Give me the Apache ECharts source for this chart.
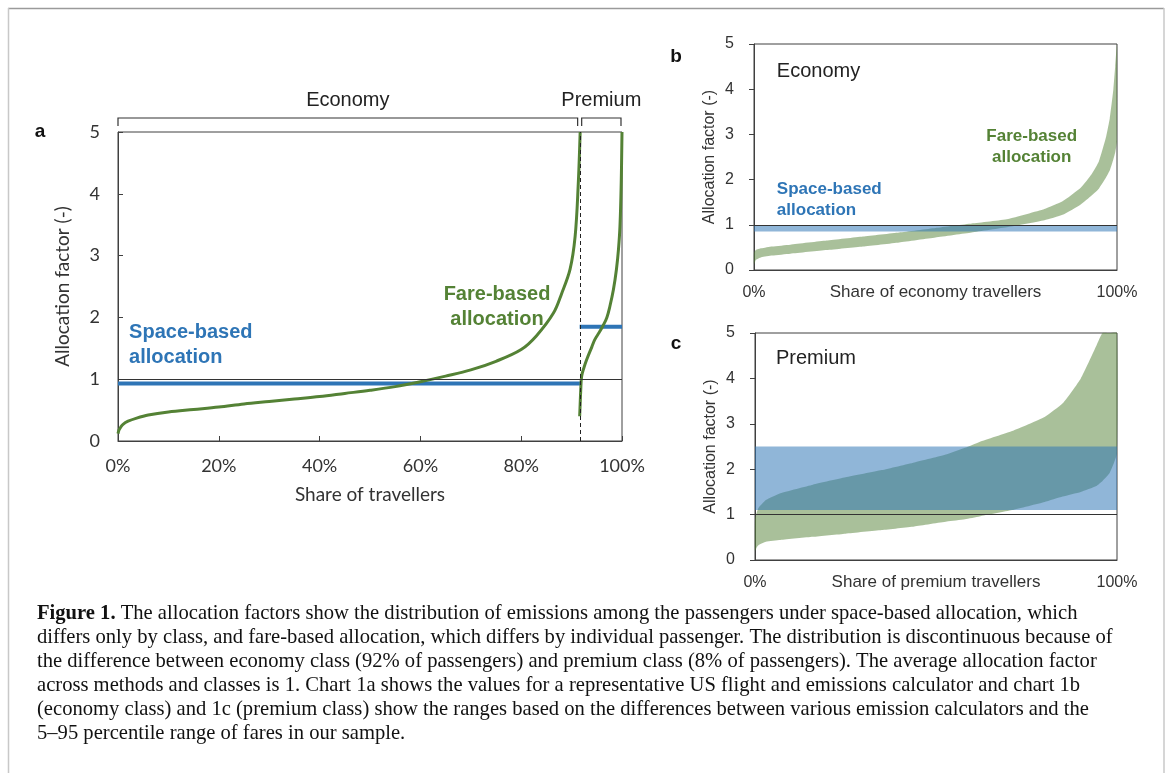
<!DOCTYPE html>
<html>
<head>
<meta charset="utf-8">
<title>Figure 1 - allocation factors</title>
<script src="https://cdn.jsdelivr.net/npm/echarts@6/dist/echarts.min.js"></script>
<style>
  html, body { margin: 0; padding: 0; background: #fff; }
  #main { width: 1171px; height: 773px; }
</style>
</head>
<body>
<div id="main"></div>
<script>
// --- chart a: representative flight ---
var econShare = [0, 0.2, 0.5, 1, 2, 3.7, 6, 10, 15, 20, 25, 30, 35, 40, 45, 50, 55, 60, 65, 70, 75, 80, 83, 86.4, 88, 89.7, 90.7, 91.3, 91.7];
var econFare  = [0.12, 0.18, 0.22, 0.27, 0.32, 0.37, 0.42, 0.47, 0.51, 0.55, 0.6, 0.64, 0.68, 0.72, 0.77, 0.82, 0.88, 0.96, 1.05, 1.15, 1.29, 1.48, 1.7, 2.07, 2.38, 2.78, 3.31, 4.12, 5.0];
var premShare = [91.6, 91.7, 91.8, 92, 92.5, 93, 94, 94.6, 95.5, 96.2, 97, 97.6, 98.3, 98.9, 99.3, 99.6, 99.85, 100];
var premFare  = [0.4, 0.6, 0.8, 1.05, 1.2, 1.32, 1.52, 1.64, 1.76, 1.86, 2.0, 2.18, 2.45, 2.78, 3.1, 3.48, 4.2, 5.0];
var splitShare = 91.8;
var econSpace = 0.93;
var premSpace = 1.85;
var classNames = ['Economy', 'Premium'];
var classSpans = [[0, 91.2], [92, 99.8]];

// --- chart b: economy ranges ---
var bShare = [0, 0.5, 2, 5, 10, 20, 30, 40, 50, 60, 70, 80, 85, 90, 93, 95, 97, 98, 99, 99.5, 100];
var bHigh  = [0.38, 0.44, 0.48, 0.52, 0.56, 0.65, 0.74, 0.83, 0.93, 1.03, 1.13, 1.35, 1.52, 1.82, 2.12, 2.4, 2.95, 3.35, 4.0, 4.5, 5.0];
var bLow   = [0.12, 0.22, 0.28, 0.32, 0.36, 0.44, 0.52, 0.61, 0.72, 0.83, 0.95, 1.1, 1.22, 1.45, 1.65, 1.8, 2.05, 2.2, 2.45, 2.6, 2.85];
var bSpace = [0.85, 0.98];

// --- chart c: premium ranges ---
var cShare = [0, 0.5, 1, 3, 7, 16, 25, 35, 44, 53, 58, 62, 71, 80, 85, 90, 94.3, 96, 98, 100];
var cHigh  = [0.9, 1.05, 1.15, 1.32, 1.47, 1.66, 1.82, 1.98, 2.15, 2.33, 2.47, 2.6, 2.84, 3.15, 3.45, 4.0, 4.72, 5, 5, 5];
var cLow   = [0.2, 0.28, 0.33, 0.4, 0.44, 0.51, 0.58, 0.66, 0.74, 0.85, 0.9, 0.96, 1.1, 1.28, 1.4, 1.5, 1.63, 1.74, 1.92, 2.35];
var cSpace = [1.1, 2.5];

var captionLines = [
  ' The allocation factors show the distribution of emissions among the passengers under space-based allocation, which',
  'differs only by class, and fare-based allocation, which differs by individual passenger. The distribution is discontinuous because of',
  'the difference between economy class (92% of passengers) and premium class (8% of passengers). The average allocation factor',
  'across methods and classes is 1. Chart 1a shows the values for a representative US flight and emissions calculator and chart 1b',
  '(economy class) and 1c (premium class) show the ranges based on the differences between various emission calculators and the',
  '5\u201395 percentile range of fares in our sample.'
];

var GREEN = '#548235', BLUE = '#2e75b6', AXIS = '#404040';
var SANS = '"Liberation Sans", Arial, sans-serif';

function zip(xs, ys) {
  var out = [];
  for (var i = 0; i < xs.length; i++) out.push([xs[i], ys[i]]);
  return out;
}

function xAxisA() {
  return {
    gridIndex: 0, type: 'value', min: 0, max: 100, interval: 20,
    axisLine: {lineStyle: {color: AXIS}},
    axisTick: {inside: true, length: 5, lineStyle: {color: AXIS}},
    axisLabel: {formatter: '{value}%', fontFamily: 'Lato', fontSize: 18, color: '#333', margin: 16},
    splitLine: {show: false},
    name: 'Share of travellers', nameLocation: 'middle', nameGap: 44, nameMoveOverlap: false,
    nameTextStyle: {fontFamily: 'Lato', fontSize: 19, color: '#333'}
  };
}
function xAxisSmall(grid, name) {
  return {
    gridIndex: grid, type: 'value', min: 0, max: 100, interval: 100,
    axisLine: {lineStyle: {color: AXIS}},
    axisTick: {show: false},
    axisLabel: {formatter: '{value}%', fontFamily: SANS, fontSize: 16, color: '#333', margin: 15},
    splitLine: {show: false},
    name: name, nameLocation: 'middle', nameGap: 14, nameMoveOverlap: false,
    nameTextStyle: {fontFamily: SANS, fontSize: 17, color: '#333'}
  };
}
function yAxis(grid, small) {
  return {
    gridIndex: grid, type: 'value', min: 0, max: 5, interval: 1,
    axisLine: {show: true, lineStyle: {color: AXIS}},
    axisTick: {show: true, inside: !small, length: 5, lineStyle: {color: AXIS}},
    axisLabel: {fontFamily: small ? SANS : 'Lato', fontSize: small ? 16 : 18, color: '#333', margin: small ? 20 : 18},
    splitLine: {show: false},
    name: 'Allocation factor (-)', nameLocation: 'middle', nameGap: small ? 36 : 46, nameMoveOverlap: false,
    nameTextStyle: {fontFamily: small ? SANS : 'Lato', fontSize: small ? 16 : 19, color: '#333'}
  };
}

function unitLine(grid) {
  return {
    type: 'line', xAxisIndex: grid, yAxisIndex: grid, data: [], z: 6,
    markLine: {
      silent: true, symbol: 'none', label: {show: false},
      lineStyle: {color: '#333', type: 'solid', width: 1.2},
      data: [{yAxis: 1}]
    }
  };
}

// range of fare-based factors: polygon between the low and high curves
function bandSeries(grid, xs, lo, hi, space) {
  var rows = [];
  for (var i = 0; i < xs.length; i++) rows.push([xs[i], lo[i], hi[i]]);
  return [
    {
      type: 'custom', xAxisIndex: grid, yAxisIndex: grid, z: 2, silent: true,
      data: rows, encode: {x: 0, y: [1, 2]},
      renderItem: function (params, api) {
        if (params.dataIndex !== 0) return null;
        var pts = [], k;
        for (k = 0; k < xs.length; k++) pts.push(api.coord([xs[k], hi[k]]));
        for (k = xs.length - 1; k >= 0; k--) pts.push(api.coord([xs[k], lo[k]]));
        return {type: 'polygon', shape: {points: pts, smooth: 0.15},
                style: {fill: 'rgba(84,130,53,0.5)', stroke: null}};
      }
    },
    {
      type: 'line', xAxisIndex: grid, yAxisIndex: grid, data: [], z: 4,
      markArea: {
        silent: true, z: 4,
        itemStyle: {color: BLUE, opacity: 0.53},
        data: [[{yAxis: space[0]}, {yAxis: space[1]}]]
      }
    },
    unitLine(grid)
  ];
}

var chart = echarts.init(document.getElementById('main'), null, {renderer: 'canvas'});

var option = {
  backgroundColor: '#fff',
  animation: false,
  grid: [
    {left: 118, top: 132, width: 504, height: 309, show: true, borderColor: AXIS, borderWidth: 1},
    {left: 754, top: 44, width: 363, height: 226, show: true, borderColor: AXIS, borderWidth: 1},
    {left: 755, top: 333, width: 362, height: 227, show: true, borderColor: AXIS, borderWidth: 1}
  ],
  xAxis: [xAxisA(), xAxisSmall(1, 'Share of economy travellers'), xAxisSmall(2, 'Share of premium travellers')],
  yAxis: [yAxis(0, false), yAxis(1, true), yAxis(2, true)],
  series: [
    unitLine(0),
    {
      type: 'line', xAxisIndex: 0, yAxisIndex: 0, z: 3,
      data: [[0, econSpace], [splitShare, econSpace]], showSymbol: false,
      lineStyle: {color: BLUE, width: 4}
    },
    {
      type: 'line', xAxisIndex: 0, yAxisIndex: 0, z: 3,
      data: [[premShare[0], premSpace], [100, premSpace]], showSymbol: false,
      lineStyle: {color: BLUE, width: 4}
    },
    {
      type: 'line', xAxisIndex: 0, yAxisIndex: 0, z: 4,
      data: zip(econShare, econFare), showSymbol: false, smooth: 0.35,
      lineStyle: {color: GREEN, width: 3}
    },
    {
      type: 'line', xAxisIndex: 0, yAxisIndex: 0, z: 4,
      data: zip(premShare, premFare), showSymbol: false, smooth: 0.4,
      lineStyle: {color: GREEN, width: 3},
      markLine: {
        silent: true, symbol: 'none', label: {show: false},
        lineStyle: {color: '#222', type: [4, 3], width: 1},
        data: [{xAxis: splitShare}]
      }
    }
  ].concat(bandSeries(1, bShare, bLow, bHigh, bSpace))
   .concat(bandSeries(2, cShare, cLow, cHigh, cSpace))
};
chart.setOption(option);

// annotations placed through the grids' own scales
function px(grid, x, y) { return chart.convertToPixel({gridIndex: grid}, [x, y]); }

var g = [];
// figure frame
g.push({type: 'line', shape: {x1: 8, y1: 8.5, x2: 1164, y2: 8.5}, style: {stroke: '#9a9a9a', lineWidth: 1.5}});
g.push({type: 'line', shape: {x1: 8.5, y1: 8, x2: 8.5, y2: 773}, style: {stroke: '#c8c8c8', lineWidth: 1.5}});
g.push({type: 'line', shape: {x1: 1164, y1: 8, x2: 1164, y2: 773}, style: {stroke: '#c8c8c8', lineWidth: 1.5}});

// class brackets over chart a
var topA = px(0, 0, 5)[1];
classSpans.forEach(function (span, i) {
  var l = px(0, span[0], 5)[0], r = px(0, span[1], 5)[0];
  g.push({type: 'polyline', shape: {points: [[l, topA - 6], [l, topA - 14], [r, topA - 14], [r, topA - 6]]},
          style: {stroke: '#333', lineWidth: 1.2, fill: null}});
  g.push({type: 'text', x: (l + r) / 2, y: topA - 32,
          style: {text: classNames[i], font: '20px ' + SANS, fill: '#222', align: 'center', verticalAlign: 'middle'}});
});

// panel letters
[['a', 40, 132], ['b', 676, 57], ['c', 676, 344]].forEach(function (p) {
  g.push({type: 'text', x: p[1], y: p[2], style: {text: p[0], font: 'bold 19px ' + SANS, fill: '#111', align: 'center', verticalAlign: 'middle'}});
});

function label(grid, x, y, text, color, size, bold, align) {
  var p = px(grid, x, y);
  g.push({type: 'text', x: p[0], y: p[1], style: {
    text: text, font: (bold ? 'bold ' : '') + size + 'px ' + SANS, fill: color,
    align: align || 'left', verticalAlign: 'middle', lineHeight: Math.round(size * 1.25)
  }});
}
label(0, 2.2, 1.55, 'Space-based\nallocation', BLUE, 20, true);
label(0, 75.2, 2.17, 'Fare-based\nallocation', GREEN, 20, true, 'center');
label(1, 6.3, 1.55, 'Space-based\nallocation', BLUE, 17, true);
label(1, 76.5, 2.72, 'Fare-based\nallocation', GREEN, 17, true, 'center');
label(1, 6.3, 4.4, 'Economy', '#222', 20, false);
label(2, 5.8, 4.44, 'Premium', '#222', 20, false);

// caption
var SERIF = '"Liberation Serif", "Times New Roman", serif';
captionLines.forEach(function (line, i) {
  var style = {font: '20.6px ' + SERIF, fill: '#111', verticalAlign: 'middle', align: 'left'};
  if (i === 0) {
    style.text = '{b|Figure 1.}' + line;
    style.rich = {b: {font: 'bold 20.6px ' + SERIF, fill: '#111'}};
  } else {
    style.text = line;
  }
  g.push({type: 'text', x: 37, y: 614 + i * 24, style: style});
});

chart.setOption({graphic: g});
</script>
</body>
</html>
